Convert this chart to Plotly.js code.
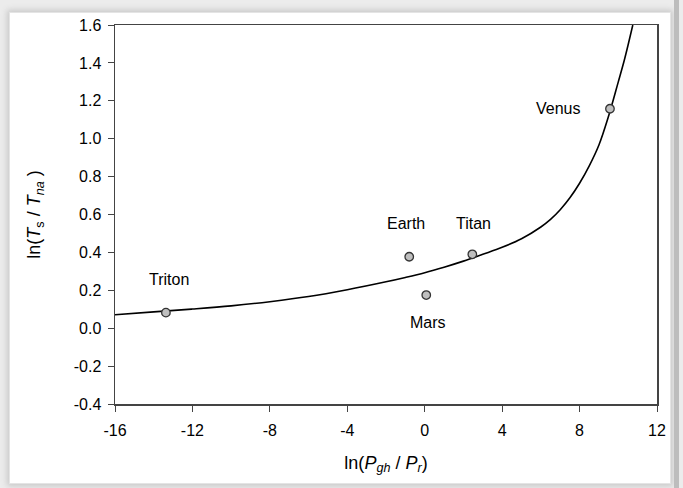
<!DOCTYPE html>
<html>
<head>
<meta charset="utf-8">
<script src="https://cdn.plot.ly/plotly-3.0.1.min.js"></script>
<style>
html,body{margin:0;padding:0;background:#ececec;}
#frame{position:absolute;left:9px;top:12px;width:660px;height:470px;background:#fff;box-shadow:0 0 6px 2px #c8c8c8;border:1px solid #e4e4e4;}
#rb{position:absolute;left:674px;top:0;width:5px;height:488px;background:#bdbdbd;}
#chart{position:absolute;left:0;top:0;width:683px;height:488px;}
</style>
</head>
<body>
<div id="frame"></div>
<div id="rb"></div>
<div id="chart"></div>
<script>
// Observed planetary bodies
const bodies = ["Triton", "Earth", "Mars", "Titan", "Venus"];
const bodyX = [-13.37, -0.80, 0.08, 2.46, 9.57];
const bodyY = [0.082, 0.377, 0.175, 0.390, 1.158];

// Label anchor positions (data coords)
const labelX = [-13.23, -0.95, 0.18, 2.51, 6.86];
const labelY = [0.258, 0.550, 0.029, 0.553, 1.158];

// Fitted curve
const curveX = [-16,-14,-12,-10,-8,-6,-4,-2,-1,0,1,2,3,4,5,6,6.5,7,7.5,8,8.5,9,9.5,10,10.3,10.5,10.75];
const curveY = [0.071,0.086,0.101,0.118,0.140,0.167,0.203,0.245,0.268,0.293,0.322,0.354,0.390,0.427,0.472,0.534,0.574,0.625,0.688,0.765,0.857,0.967,1.120,1.300,1.410,1.492,1.600];

const xTicks = [-16,-12,-8,-4,0,4,8,12];
const yTicks = [-0.4,-0.2,0.0,0.2,0.4,0.6,0.8,1.0,1.2,1.4,1.6];

const font = {family: "Liberation Sans, Arial, sans-serif", color: "#000"};

const traces = [
  {x: curveX, y: curveY, mode: "lines", line: {color: "#000", width: 1.6, shape: "spline", smoothing: 1}, hoverinfo: "skip"},
  {x: bodyX, y: bodyY, text: bodies, mode: "markers",
   marker: {size: 8.5, color: "#bfbfbf", line: {color: "#333", width: 1.3}}}
];

const annotations = bodies.map((b, i) => ({
  x: labelX[i], y: labelY[i], text: b, showarrow: false,
  xanchor: "center", yanchor: "middle",
  font: Object.assign({}, font, {size: 16})
}));

const layout = {
  width: 683, height: 488,
  paper_bgcolor: "rgba(0,0,0,0)", plot_bgcolor: "#fff",
  margin: {l: 115, r: 26, t: 25, b: 84},
  showlegend: false,
  font: Object.assign({}, font, {size: 16}),
  xaxis: {
    range: [-16, 12], tickvals: xTicks, ticktext: xTicks.map(String),
    showgrid: false, zeroline: false, showline: true, mirror: true,
    linecolor: "#444", linewidth: 1.5, ticks: "outside", ticklen: 6, tickcolor: "#444",
    ticklabelstandoff: 5,
    tickfont: Object.assign({}, font, {size: 16}),
    title: {text: "ln(<i>P</i><sub><i>gh</i></sub> / <i>P</i><sub><i>r</i></sub>)", font: Object.assign({}, font, {size: 18}), standoff: 18}
  },
  yaxis: {
    range: [-0.4, 1.6], tickvals: yTicks, ticktext: yTicks.map(v => v.toFixed(1)),
    showgrid: false, zeroline: false, showline: true, mirror: true,
    linecolor: "#444", linewidth: 1.5, ticks: "outside", ticklen: 6, tickcolor: "#444",
    ticklabelstandoff: 3,
    tickfont: Object.assign({}, font, {size: 16}),
    title: {text: "ln(<i>T</i><sub>s</sub> / <i>T</i><sub><i>na</i></sub> )", font: Object.assign({}, font, {size: 18}), standoff: 28}
  },
  annotations: annotations
};

Plotly.newPlot("chart", traces, layout, {displayModeBar: false, staticPlot: true});
</script>
</body>
</html>
